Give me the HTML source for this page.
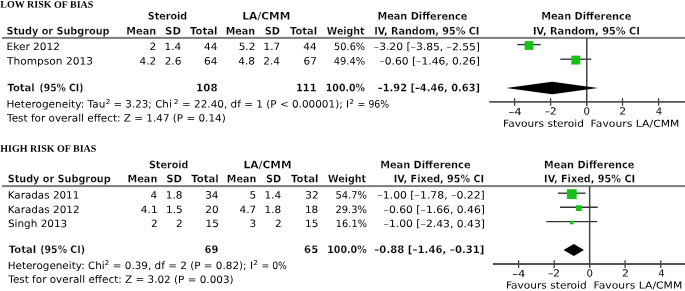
<!DOCTYPE html>
<html lang="en"><head><meta charset="utf-8"><title>Forest plot</title>
<style>
html,body{margin:0;padding:0;background:#fff}
body{width:685px;height:291px;overflow:hidden}
svg{display:block}
text{fill:#000;font-family:'DejaVu Sans', 'Liberation Sans', sans-serif;white-space:pre}
text.n{font-size:10.1px}
text.b{font-size:10.4px;font-weight:bold;stroke:#fff;stroke-width:0.2px;paint-order:fill stroke}
text.a{font-size:9.8px}
text.f{font-size:9.6px}
text.s{font-size:6.6px}
text.h{font-family:'Liberation Serif','DejaVu Serif',serif;font-weight:bold;font-size:10px}
</style></head><body>
<svg width="685" height="291" viewBox="0 0 685 291">
<rect width="685" height="291" fill="#fff"/>
<text class="h" transform="translate(0.3,7.6) rotate(0.03)">LOW RISK OF BIAS</text>
<text class="h" transform="translate(0.3,151.8) rotate(0.03)">HIGH RISK OF BIAS</text>
<rect x="2" y="36.90" width="683" height="2" fill="#7d7d7d"/>
<line x1="489.20" y1="101.90" x2="685.00" y2="101.90" stroke="#555" stroke-width="1.8"/>
<line x1="514.60" y1="98.20" x2="514.60" y2="105.80" stroke="#444" stroke-width="1.3"/>
<line x1="550.60" y1="98.20" x2="550.60" y2="105.80" stroke="#444" stroke-width="1.3"/>
<line x1="622.50" y1="98.20" x2="622.50" y2="105.80" stroke="#444" stroke-width="1.3"/>
<line x1="658.60" y1="98.20" x2="658.60" y2="105.80" stroke="#444" stroke-width="1.3"/>
<line x1="586.75" y1="37.90" x2="586.75" y2="105.90" stroke="#444" stroke-width="1.5"/>
<line x1="517.30" y1="44.60" x2="540.70" y2="44.60" stroke="#333" stroke-width="1.35"/>
<rect x="524.60" y="41.10" width="8.8" height="8.8" fill="#17c117"/>
<line x1="560.32" y1="59.20" x2="591.28" y2="59.20" stroke="#333" stroke-width="1.35"/>
<rect x="571.35" y="55.65" width="8.9" height="8.9" fill="#17c117"/>
<polygon points="506.32,88.0 552.04,81.7 597.94,88.0 552.04,94.3" fill="#000"/>
<rect x="2" y="185.10" width="683" height="2" fill="#7d7d7d"/>
<line x1="493.00" y1="264.00" x2="685.00" y2="264.00" stroke="#555" stroke-width="1.8"/>
<line x1="518.60" y1="260.30" x2="518.60" y2="267.90" stroke="#444" stroke-width="1.3"/>
<line x1="554.20" y1="260.30" x2="554.20" y2="267.90" stroke="#444" stroke-width="1.3"/>
<line x1="625.10" y1="260.30" x2="625.10" y2="267.90" stroke="#444" stroke-width="1.3"/>
<line x1="660.80" y1="260.30" x2="660.80" y2="267.90" stroke="#444" stroke-width="1.3"/>
<line x1="589.65" y1="186.10" x2="589.65" y2="268.00" stroke="#444" stroke-width="1.5"/>
<line x1="557.86" y1="193.20" x2="585.59" y2="193.20" stroke="#333" stroke-width="1.35"/>
<rect x="566.83" y="189.20" width="9.8" height="9.8" fill="#17c117"/>
<line x1="559.99" y1="207.20" x2="597.68" y2="207.20" stroke="#333" stroke-width="1.35"/>
<rect x="575.94" y="205.20" width="5.8" height="5.8" fill="#17c117"/>
<line x1="546.31" y1="221.60" x2="597.14" y2="221.60" stroke="#333" stroke-width="1.35"/>
<rect x="569.93" y="220.70" width="3.6" height="3.6" fill="#17c117"/>
<polygon points="563.55,250.0 573.86,244.1 583.99,250.0 573.86,255.9" fill="#000"/>
<text class="b" transform="translate(147.76,19.60) scale(0.9211,1) rotate(0.03)">Steroid</text>
<text class="b" transform="translate(242.17,19.60) scale(1.0321,1) rotate(0.03)">LA/CMM</text>
<text class="b" transform="translate(377.46,19.60) scale(0.9379,1) rotate(0.03)">Mean Difference</text>
<text class="b" transform="translate(541.15,19.60) scale(0.9432,1) rotate(0.03)">Mean Difference</text>
<text class="b" transform="translate(6.45,34.40) scale(0.9345,1) rotate(0.03)">Study or Subgroup</text>
<text class="b" transform="translate(126.36,34.40) scale(0.9362,1) rotate(0.03)">Mean</text>
<text class="b" transform="translate(165.11,34.40) scale(0.9805,1) rotate(0.03)">SD</text>
<text class="b" transform="translate(190.00,34.40) scale(0.9656,1) rotate(0.03)">Total</text>
<text class="b" transform="translate(225.67,34.40) scale(0.9263,1) rotate(0.03)">Mean</text>
<text class="b" transform="translate(264.64,34.40) scale(0.9469,1) rotate(0.03)">SD</text>
<text class="b" transform="translate(290.00,34.40) scale(0.9547,1) rotate(0.03)">Total</text>
<text class="b" transform="translate(326.83,34.40) scale(0.9107,1) rotate(0.03)">Weight</text>
<text class="b" transform="translate(374.16,34.40) scale(0.9291,1) rotate(0.03)">IV, Random, 95% CI</text>
<text class="b" transform="translate(532.95,34.40) scale(0.9417,1) rotate(0.03)">IV, Random, 95% CI</text>
<text class="n" transform="translate(6.56,50.10) scale(1.0441,1) rotate(0.03)">Eker 2012</text>
<text class="n" transform="translate(149.48,50.10) scale(1.0401,1) rotate(0.03)">2</text>
<text class="n" transform="translate(164.54,50.10) scale(1.0401,1) rotate(0.03)">1.4</text>
<text class="n" transform="translate(204.08,50.10) scale(1.0401,1) rotate(0.03)">44</text>
<text class="n" transform="translate(238.66,50.10) scale(1.0401,1) rotate(0.03)">5.2</text>
<text class="n" transform="translate(263.55,50.10) scale(1.0401,1) rotate(0.03)">1.7</text>
<text class="n" transform="translate(303.28,50.10) scale(1.0401,1) rotate(0.03)">44</text>
<text class="n" transform="translate(334.12,50.10) scale(0.9680,1) rotate(0.03)">50.6%</text>
<text class="n" transform="translate(373.77,50.10) scale(1.0628,1) rotate(0.03)">–3.20 [–3.85, –2.55]</text>
<text class="n" transform="translate(7.01,64.50) scale(1.0514,1) rotate(0.03)">Thompson 2013</text>
<text class="n" transform="translate(139.46,64.50) scale(1.0401,1) rotate(0.03)">4.2</text>
<text class="n" transform="translate(164.64,64.50) scale(1.0401,1) rotate(0.03)">2.6</text>
<text class="n" transform="translate(204.08,64.50) scale(1.0401,1) rotate(0.03)">64</text>
<text class="n" transform="translate(238.34,64.50) scale(1.0401,1) rotate(0.03)">4.8</text>
<text class="n" transform="translate(263.24,64.50) scale(1.0401,1) rotate(0.03)">2.4</text>
<text class="n" transform="translate(303.59,64.50) scale(1.0401,1) rotate(0.03)">67</text>
<text class="n" transform="translate(333.71,64.50) scale(0.9811,1) rotate(0.03)">49.4%</text>
<text class="n" transform="translate(379.38,64.50) scale(1.0604,1) rotate(0.03)">–0.60 [–1.46, 0.26]</text>
<text class="b" transform="translate(7.50,91.30) scale(0.9584,1) rotate(0.03)">Total</text>
<text class="b" transform="translate(39.49,91.30) scale(0.8899,1) rotate(0.03)">(95% CI)</text>
<text class="b" transform="translate(196.11,91.30) scale(0.9914,1) rotate(0.03)">108</text>
<text class="b" transform="translate(295.95,91.30) scale(0.9513,1) rotate(0.03)">111</text>
<text class="b" transform="translate(325.80,91.30) scale(0.9046,1) rotate(0.03)">100.0%</text>
<text class="b" transform="translate(377.83,91.30) scale(0.9473,1) rotate(0.03)">–1.92 [–4.46, 0.63]</text>
<text class="n" transform="translate(6.46,107.50) scale(1.0425,1) rotate(0.03)">Heterogeneity: Tau</text>
<text class="s" transform="translate(105.44,103.50) scale(1.1562,1) rotate(0.03)">2</text>
<text class="n" transform="translate(113.38,107.50) scale(1.0249,1) rotate(0.03)">= 3.23; Chi</text>
<text class="s" transform="translate(173.74,103.50) scale(1.1563,1) rotate(0.03)">2</text>
<text class="n" transform="translate(181.97,107.50) scale(1.0349,1) rotate(0.03)">= 22.40, df = 1 (P &lt; 0.00001); I</text>
<text class="s" transform="translate(349.34,103.50) scale(1.1562,1) rotate(0.03)">2</text>
<text class="n" transform="translate(357.57,107.50) scale(0.9287,1) rotate(0.03)">= 96%</text>
<text class="n" transform="translate(7.10,121.50) scale(1.0324,1) rotate(0.03)">Test for overall effect: Z = 1.47 (P = 0.14)</text>
<text class="a" transform="translate(508.43,114.50) scale(1.1863,1) rotate(0.03)">–4</text>
<text class="a" transform="translate(544.67,114.50) scale(1.0816,1) rotate(0.03)">–2</text>
<text class="a" transform="translate(583.38,114.50) scale(1.0400,1) rotate(0.03)">0</text>
<text class="a" transform="translate(619.22,114.50) scale(1.1087,1) rotate(0.03)">2</text>
<text class="a" transform="translate(655.68,114.50) scale(1.0377,1) rotate(0.03)">4</text>
<text class="f" transform="translate(503.00,126.70) scale(1.1075,1) rotate(0.03)">Favours steroid</text>
<text class="f" transform="translate(590.58,126.70) scale(1.1283,1) rotate(0.03)">Favours LA/CMM</text>
<text class="b" transform="translate(148.96,168.20) scale(0.9211,1) rotate(0.03)">Steroid</text>
<text class="b" transform="translate(243.47,168.20) scale(1.0299,1) rotate(0.03)">LA/CMM</text>
<text class="b" transform="translate(380.15,168.20) scale(0.9443,1) rotate(0.03)">Mean Difference</text>
<text class="b" transform="translate(544.05,168.20) scale(0.9421,1) rotate(0.03)">Mean Difference</text>
<text class="b" transform="translate(7.65,182.20) scale(0.9327,1) rotate(0.03)">Study or Subgroup</text>
<text class="b" transform="translate(127.56,182.20) scale(0.9362,1) rotate(0.03)">Mean</text>
<text class="b" transform="translate(166.21,182.20) scale(0.9805,1) rotate(0.03)">SD</text>
<text class="b" transform="translate(191.20,182.20) scale(0.9692,1) rotate(0.03)">Total</text>
<text class="b" transform="translate(226.87,182.20) scale(0.9263,1) rotate(0.03)">Mean</text>
<text class="b" transform="translate(265.94,182.20) scale(0.9402,1) rotate(0.03)">SD</text>
<text class="b" transform="translate(291.00,182.20) scale(0.9656,1) rotate(0.03)">Total</text>
<text class="b" transform="translate(328.03,182.20) scale(0.9156,1) rotate(0.03)">Weight</text>
<text class="b" transform="translate(393.77,182.20) scale(0.9265,1) rotate(0.03)">IV, Fixed, 95% CI</text>
<text class="b" transform="translate(544.06,182.20) scale(0.9349,1) rotate(0.03)">IV, Fixed, 95% CI</text>
<text class="n" transform="translate(7.68,198.40) scale(1.0276,1) rotate(0.03)">Karadas 2011</text>
<text class="n" transform="translate(150.46,198.40) scale(1.0401,1) rotate(0.03)">4</text>
<text class="n" transform="translate(165.74,198.40) scale(1.0401,1) rotate(0.03)">1.8</text>
<text class="n" transform="translate(205.18,198.40) scale(1.0401,1) rotate(0.03)">34</text>
<text class="n" transform="translate(249.58,198.40) scale(1.0401,1) rotate(0.03)">5</text>
<text class="n" transform="translate(264.44,198.40) scale(1.0401,1) rotate(0.03)">1.4</text>
<text class="n" transform="translate(305.20,198.40) scale(1.0401,1) rotate(0.03)">32</text>
<text class="n" transform="translate(335.41,198.40) scale(0.9842,1) rotate(0.03)">54.7%</text>
<text class="n" transform="translate(377.37,198.40) scale(1.0750,1) rotate(0.03)">–1.00 [–1.78, –0.22]</text>
<text class="n" transform="translate(7.67,212.90) scale(1.0305,1) rotate(0.03)">Karadas 2012</text>
<text class="n" transform="translate(140.86,212.90) scale(1.0401,1) rotate(0.03)">4.1</text>
<text class="n" transform="translate(165.95,212.90) scale(1.0401,1) rotate(0.03)">1.5</text>
<text class="n" transform="translate(205.28,212.90) scale(1.0401,1) rotate(0.03)">20</text>
<text class="n" transform="translate(239.55,212.90) scale(1.0401,1) rotate(0.03)">4.7</text>
<text class="n" transform="translate(264.54,212.90) scale(1.0401,1) rotate(0.03)">1.8</text>
<text class="n" transform="translate(304.88,212.90) scale(1.0401,1) rotate(0.03)">18</text>
<text class="n" transform="translate(335.41,212.90) scale(0.9842,1) rotate(0.03)">29.3%</text>
<text class="n" transform="translate(383.57,212.90) scale(1.0667,1) rotate(0.03)">–0.60 [–1.66, 0.46]</text>
<text class="n" transform="translate(7.98,227.10) scale(1.0336,1) rotate(0.03)">Singh 2013</text>
<text class="n" transform="translate(150.88,227.10) scale(1.0401,1) rotate(0.03)">2</text>
<text class="n" transform="translate(176.08,227.10) scale(1.0401,1) rotate(0.03)">2</text>
<text class="n" transform="translate(205.49,227.10) scale(1.0401,1) rotate(0.03)">15</text>
<text class="n" transform="translate(249.47,227.10) scale(1.0401,1) rotate(0.03)">3</text>
<text class="n" transform="translate(274.88,227.10) scale(1.0401,1) rotate(0.03)">2</text>
<text class="n" transform="translate(305.09,227.10) scale(1.0401,1) rotate(0.03)">15</text>
<text class="n" transform="translate(335.83,227.10) scale(0.9709,1) rotate(0.03)">16.1%</text>
<text class="n" transform="translate(383.57,227.10) scale(1.0667,1) rotate(0.03)">–1.00 [–2.43, 0.43]</text>
<text class="b" transform="translate(8.80,253.00) scale(0.9620,1) rotate(0.03)">Total</text>
<text class="b" transform="translate(40.28,253.00) scale(0.9046,1) rotate(0.03)">(95% CI)</text>
<text class="b" transform="translate(204.62,253.00) scale(0.9670,1) rotate(0.03)">69</text>
<text class="b" transform="translate(304.12,253.00) scale(0.9746,1) rotate(0.03)">65</text>
<text class="b" transform="translate(327.20,253.00) scale(0.9118,1) rotate(0.03)">100.0%</text>
<text class="b" transform="translate(374.31,253.00) scale(0.9739,1) rotate(0.03)">–0.88 [–1.46, –0.31]</text>
<text class="n" transform="translate(7.67,269.00) scale(1.0302,1) rotate(0.03)">Heterogeneity: Chi</text>
<text class="s" transform="translate(104.44,265.00) scale(1.1562,1) rotate(0.03)">2</text>
<text class="n" transform="translate(112.77,269.00) scale(1.0326,1) rotate(0.03)">= 0.39, df = 2 (P = 0.82); I</text>
<text class="s" transform="translate(253.15,265.00) scale(1.1250,1) rotate(0.03)">2</text>
<text class="n" transform="translate(261.38,269.00) scale(0.9237,1) rotate(0.03)">= 0%</text>
<text class="n" transform="translate(8.30,282.80) scale(1.0327,1) rotate(0.03)">Test for overall effect: Z = 3.02 (P = 0.003)</text>
<text class="a" transform="translate(512.13,276.50) scale(1.1765,1) rotate(0.03)">–4</text>
<text class="a" transform="translate(547.97,276.50) scale(1.0816,1) rotate(0.03)">–2</text>
<text class="a" transform="translate(586.38,276.50) scale(1.0400,1) rotate(0.03)">0</text>
<text class="a" transform="translate(622.12,276.50) scale(1.1087,1) rotate(0.03)">2</text>
<text class="a" transform="translate(658.18,276.50) scale(1.0377,1) rotate(0.03)">4</text>
<text class="f" transform="translate(505.91,288.40) scale(1.1047,1) rotate(0.03)">Favours steroid</text>
<text class="f" transform="translate(593.49,288.40) scale(1.1270,1) rotate(0.03)">Favours LA/CMM</text>
</svg>
</body></html>
